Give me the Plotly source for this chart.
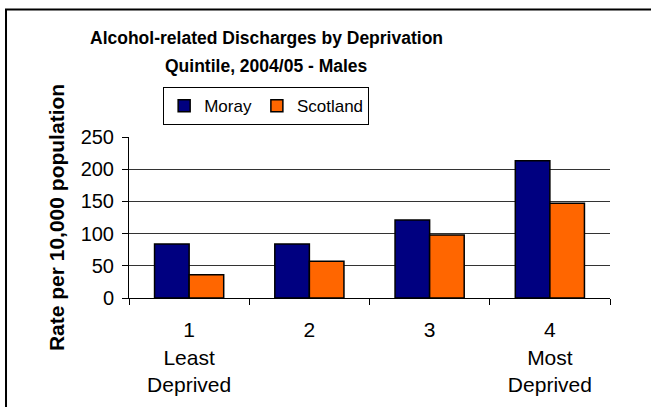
import plotly.graph_objects as go

categories = ["1<br>Least<br>Deprived", "2", "3", "4<br>Most<br>Deprived"]
moray = [84, 84, 121, 213]
scotland = [36, 57, 98, 147]
y_ticks = [0, 50, 100, 150, 200, 250]
title_lines = ["Alcohol-related Discharges by Deprivation", "Quintile, 2004/05 - Males"]

FONT = "Liberation Sans, Arial, sans-serif"

fig = go.Figure()
fig.add_trace(go.Bar(x=categories, y=moray, name="Moray",
                     marker=dict(color="#000080", line=dict(color="black", width=1.5))))
fig.add_trace(go.Bar(x=categories, y=scotland, name="Scotland",
                     marker=dict(color="#FF6600", line=dict(color="black", width=1.5))))

fig.update_layout(
    width=651, height=407,
    margin=dict(l=129, r=41, t=137, b=109, autoexpand=False),
    paper_bgcolor="white", plot_bgcolor="white",
    font=dict(family=FONT, color="black", size=16),
    barmode="group", bargap=0.425, bargroupgap=0,
    legend=dict(orientation="h", x=0.071, xanchor="left", y=1.31, yanchor="top",
                bordercolor="black", borderwidth=1, bgcolor="white",
                font=dict(size=17), traceorder="normal"),
    showlegend=True,
)
for i, line in enumerate(title_lines):
    fig.add_annotation(text="<b>%s</b>" % line, xref="paper", yref="paper",
                       x=0.285, y=1 + (137 - 38 - 28 * i) / 161, xanchor="center", yanchor="middle",
                       showarrow=False, font=dict(size=17.5, family=FONT))

fig.update_yaxes(range=[0, 250], tickvals=y_ticks, showgrid=True, gridcolor="#333333", gridwidth=1,
                 showline=True, linecolor="black", linewidth=1, ticks="outside", ticklen=6,
                 tickcolor="black", tickfont=dict(size=20), zeroline=False, ticklabelstandoff=4,
                 title=dict(text="<b>Rate per 10,000 population</b>", font=dict(size=21), standoff=10))
fig.update_xaxes(showline=True, linecolor="black", linewidth=1, ticks="outside",
                 tickson="boundaries", ticklen=6, tickcolor="black", ticklabelstandoff=13,
                 tickfont=dict(size=21), showgrid=False)

fig.add_shape(type="rect", xref="paper", yref="paper",
              x0=-0.2557, x1=1.2, y0=-0.9, y1=1.792,
              line=dict(color="black", width=2), fillcolor="rgba(0,0,0,0)", layer="above")

fig.write_html("out.html", config={"displayModeBar": False},
               post_script="document.body.style.margin='0';")
